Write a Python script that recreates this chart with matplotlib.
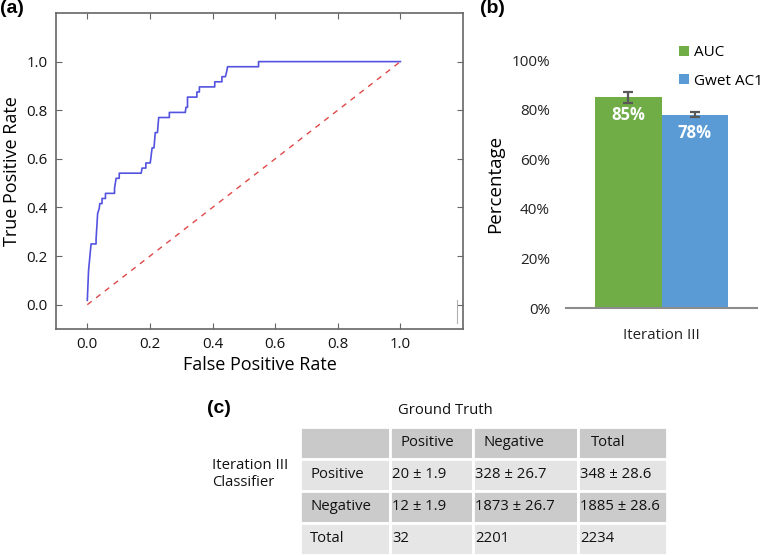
import matplotlib
matplotlib.use("Agg")
import matplotlib.pyplot as plt
import numpy as np

# ---------------- data ----------------
roc_fpr = [0.000, 0.004, 0.012, 0.028, 0.028, 0.033, 0.038, 0.040, 0.047, 0.047,
           0.058, 0.058, 0.087, 0.087, 0.092, 0.102, 0.102, 0.172, 0.175, 0.187,
           0.187, 0.201, 0.203, 0.207, 0.213, 0.217, 0.224, 0.228, 0.262, 0.262,
           0.313, 0.315, 0.320, 0.320, 0.350, 0.350, 0.358, 0.358, 0.407, 0.407,
           0.430, 0.430, 0.441, 0.445, 0.448, 0.547, 0.547, 1.000]
roc_tpr = [0.018, 0.141, 0.250, 0.250, 0.270, 0.375, 0.396, 0.416, 0.416, 0.437,
           0.437, 0.458, 0.458, 0.479, 0.520, 0.520, 0.541, 0.541, 0.562, 0.562,
           0.583, 0.583, 0.604, 0.645, 0.645, 0.708, 0.708, 0.770, 0.770, 0.791,
           0.791, 0.812, 0.812, 0.854, 0.854, 0.875, 0.875, 0.896, 0.896, 0.917,
           0.917, 0.938, 0.938, 0.958, 0.979, 0.979, 1.000, 1.000]
chance_x = [0.0, 1.0]
chance_y = [0.0, 1.0]
artifact_x = [1.18, 1.18]
artifact_y = [0.02, -0.075]
roc_ticks = [0.0, 0.2, 0.4, 0.6, 0.8, 1.0]

bar_category = ["Iteration III"]
bar_series = ["AUC", "Gwet AC1"]
bar_values = [0.85, 0.78]
bar_errors = [0.022, 0.010]
bar_labels = ["85%", "78%"]
pct_ticks = [0, 0.2, 0.4, 0.6, 0.8, 1.0]
pct_labels = ["0%", "20%", "40%", "60%", "80%", "100%"]

table_title = "Ground Truth"
row_title = "Iteration III\nClassifier"
table_header = ["", "Positive", "Negative", "Total"]
table_rows = [
    ["Positive", "20 ± 1.9", "328 ± 26.7", "348 ± 28.6"],
    ["Negative", "12 ± 1.9", "1873 ± 26.7", "1885 ± 28.6"],
    ["Total", "32", "2201", "2234"],
]

# ---------------- style ----------------
FONT = "Open Sans"
plt.rcParams["font.family"] = [FONT, "DejaVu Sans"]
W, H = 761, 555
fig = plt.figure(figsize=(W / 100, H / 100), dpi=100)

def fx(px):
    return px / W

def fy(py):
    return 1 - py / H

# ---------------- panel (a) ----------------
axa = fig.add_axes([fx(56), fy(329), fx(463 - 56), (329 - 13) / H])
axa.plot(roc_fpr, roc_tpr, color="#4040dc", lw=1.2, alpha=0.9)
axa.plot(chance_x, chance_y, color="#e04848", lw=1.0, dashes=(4, 4))
axa.plot(artifact_x, artifact_y, color="#b0b0b0", lw=0.8)
axa.set_xlim(-0.1, 1.2)
axa.set_ylim(-0.1, 1.2)
axa.set_xticks(roc_ticks)
axa.set_yticks(roc_ticks)
axa.set_xticklabels([f"{t:.1f}" for t in roc_ticks])
axa.set_yticklabels([f"{t:.1f}" for t in roc_ticks])
axa.tick_params(direction="in", length=4, width=0.8, color="#666666",
                top=True, right=True, labelsize=10.8, pad=6, labelcolor="#111111")
for s in axa.spines.values():
    s.set_color("#666666")
    s.set_linewidth(1.2)
axa.set_xlabel("False Positive Rate", fontsize=13, labelpad=3)
axa.set_ylabel("True Positive Rate", fontsize=13, labelpad=4)
fig.text(fx(0), fy(0), "(a)", fontsize=14, fontweight="bold",
         family="Liberation Sans", ha="left", va="top")

# ---------------- panel (b) ----------------
axb = fig.add_axes([fx(566), fy(308.3), fx(757 - 566), 248.3 / H])
colors = ["#70ad47", "#5b9bd5"]
width = 0.35
offsets = [-width / 2, width / 2]
for i in range(len(bar_series)):
    axb.bar(offsets[i], bar_values[i], width=width, color=colors[i],
            label=bar_series[i], zorder=2)
    axb.errorbar(offsets[i], bar_values[i], yerr=bar_errors[i], fmt="none",
                 ecolor="#595959", elinewidth=1.6, capsize=3.5, capthick=1.6, zorder=3)
    axb.annotate(bar_labels[i], (offsets[i], bar_values[i]), xytext=(0, -18),
                 textcoords="offset pixels", ha="center", va="center",
                 color="white", fontweight="bold", fontsize=12)
axb.set_xlim(-0.5, 0.5)
axb.set_ylim(0, 1.0)
axb.set_yticks(pct_ticks)
axb.set_yticklabels(pct_labels)
axb.set_xticks([0])
axb.set_xticklabels(bar_category)
axb.tick_params(axis="y", length=0, labelsize=11, labelcolor="#222222", pad=11.5)
axb.tick_params(axis="x", length=0, labelsize=10.8, labelcolor="#222222", pad=14)
for k in ["left", "right", "top"]:
    axb.spines[k].set_visible(False)
axb.spines["bottom"].set_color("#8c8c8c")
axb.spines["bottom"].set_linewidth(1.5)
axb.set_ylabel("Percentage", fontsize=13.5, labelpad=5)
axb.legend(loc="upper left", bbox_to_anchor=(fx(679), fy(45)),
           bbox_transform=fig.transFigure, frameon=False, fontsize=11,
           handlelength=0.65, handleheight=0.65, handletextpad=0.3,
           labelspacing=0.9, borderpad=0, borderaxespad=0)
fig.text(fx(480), fy(0), "(b)", fontsize=14, fontweight="bold",
         family="Liberation Sans", ha="left", va="top")

# ---------------- panel (c) ----------------
col_px = [300, 390, 473.3, 578.3, 666.7]
top_px, bot_px = 426.7, 555
axc = fig.add_axes([fx(col_px[0]), fy(bot_px), fx(col_px[-1] - col_px[0]),
                    (bot_px - top_px) / H])
axc.axis("off")
cell_text = [table_header] + table_rows
row_colors = ["#c9c9c9", "#e4e4e4", "#cbcbcb", "#e6e6e6"]
cell_colours = [[c] * 4 for c in row_colors]
total_w = col_px[-1] - col_px[0]
col_widths = [(col_px[i + 1] - col_px[i]) / total_w for i in range(4)]
tbl = axc.table(cellText=cell_text, cellColours=cell_colours, cellLoc="left",
                colWidths=col_widths, bbox=[0, 0, 1, 1])
tbl.auto_set_font_size(False)
tbl.set_fontsize(10.7)
for (r, c), cell in tbl.get_celld().items():
    cell.set_edgecolor("white")
    cell.set_linewidth(2)
    wpx = col_px[c + 1] - col_px[c]
    if r == 0 or c == 0:
        pad = 10
    else:
        pad = 2
    if r == 0 and c == 3:
        pad = 13
    cell.PAD = pad / wpx
    cell.get_text().set_color("#111111")
    cell.get_text().set_family([FONT, "DejaVu Sans"])

fig.text(fx(445), fy(411), table_title, fontsize=10.7, ha="center", va="center",
         color="#111111")
fig.text(fx(212), fy(474), row_title, fontsize=10.7, ha="left", va="center",
         color="#111111", linespacing=1.25)
fig.text(fx(207), fy(400), "(c)", fontsize=14, fontweight="bold",
         family="Liberation Sans", ha="left", va="top")

fig.savefig("out.png", dpi=100)
